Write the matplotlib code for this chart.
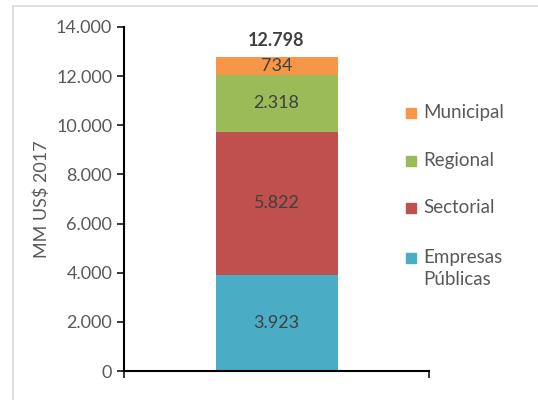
import numpy as np
import matplotlib.pyplot as plt
from matplotlib.patches import Rectangle
from matplotlib.lines import Line2D

plt.rcParams['font.family'] = ['Lato', 'DejaVu Sans']

# data (bottom to top)
categories = ["Empresas\nPúblicas", "Sectorial", "Regional", "Municipal"]
values = [3923, 5822, 2318, 734]
total = 12798  # as printed on the chart
colors = ["#4BACC6", "#C0504D", "#9BBB59", "#F79646"]
y_ticks = [0, 2000, 4000, 6000, 8000, 10000, 12000, 14000]


def fmt(v):
    # thousands separator with a dot
    return f"{v:,.0f}".replace(",", ".")


fig = plt.figure(figsize=(5.38, 4.0), dpi=100)
ax = fig.add_axes([124 / 538, 29 / 400, 305 / 538, 344 / 400])

grey = "#595959"
bottom = 0
for v, c in zip(values, colors):
    ax.bar(0, v, width=0.4, bottom=bottom, color=c)
    ax.text(0, bottom + v / 2, fmt(v), ha="center", va="center",
            fontsize=13, color="#404040")
    bottom += v

ax.text(0, bottom + 300, fmt(total), ha="center", va="bottom",
        fontsize=13, fontweight="bold", color="#404040")

ax.set_xlim(-0.5, 0.5)
ax.set_ylim(0, 14000)
ax.set_yticks(y_ticks)
ax.set_yticklabels([fmt(t) for t in y_ticks], fontsize=13, color=grey)
ax.set_xticks([-0.5, 0.5])
ax.set_xticklabels([])
ax.tick_params(axis="both", direction="out", length=5, width=1.1, color="black")
ax.spines["top"].set_visible(False)
ax.spines["right"].set_visible(False)
for s in ("left", "bottom"):
    ax.spines[s].set_linewidth(1.5)
ax.set_ylabel("MM US$ 2017", fontsize=13, color=grey, labelpad=4)

# legend drawn by hand, top entry first
leg_y = [113, 161, 208, 258]
for lab, c, y in zip(categories[::-1], colors[::-1], leg_y):
    fig.patches.append(Rectangle((406 / 538, 1 - (y + 5) / 400), 10 / 538, 10 / 400,
                                 transform=fig.transFigure, color=c))
    fig.text(423 / 538, 1 - (y - 9) / 400, lab, ha="left", va="top",
             fontsize=13.5, color=grey, linespacing=1.35)

# chart border (top and left lines)
fig.add_artist(Line2D([12.5 / 538, 1], [1 - 6 / 400, 1 - 6 / 400],
                      transform=fig.transFigure, color="#D9D9D9", lw=1.2))
fig.add_artist(Line2D([12.5 / 538, 12.5 / 538], [0, 1 - 6 / 400],
                      transform=fig.transFigure, color="#D9D9D9", lw=1.2))

fig.savefig("out.png", dpi=100)
